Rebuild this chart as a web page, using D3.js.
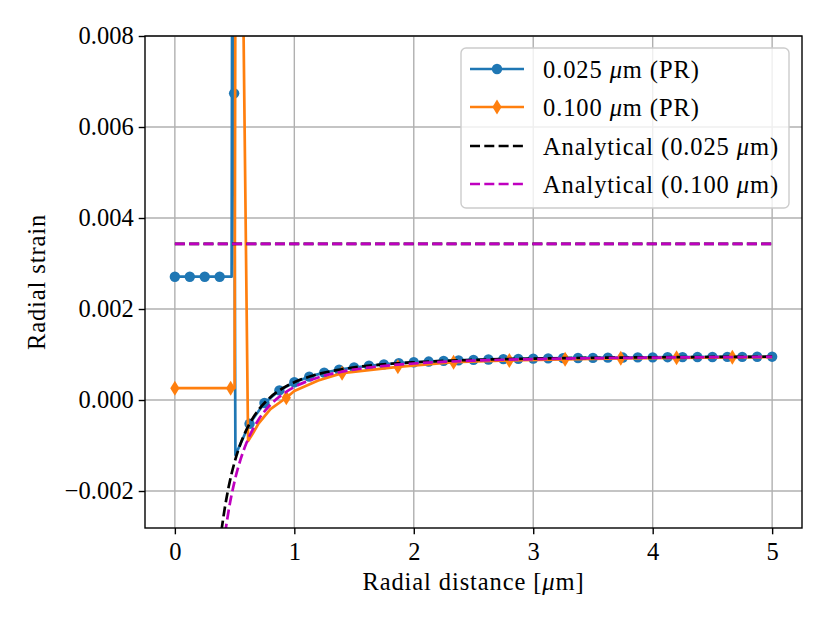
<!DOCTYPE html>
<html>
<head>
<meta charset="utf-8">
<script src="https://cdn.jsdelivr.net/npm/d3@7"></script>
<style>
  body { margin: 0; background: #fff; }
  svg text { font-family: "Liberation Serif", "DejaVu Serif", serif; fill: #000; }
</style>
</head>
<body>
<div id="chart"></div>
<script>
'use strict';

// Tick values
const xTicks = [0, 1, 2, 3, 4, 5];
const yTicks = [-0.002, 0.000, 0.002, 0.004, 0.006, 0.008];

// 0.025 um (PR): marker positions
const blueX = [0, 0.125, 0.25, 0.375, 0.496, 0.625, 0.75, 0.875, 1.0, 1.125, 1.25, 1.375, 1.5, 1.625, 1.75, 1.875,
  2.0, 2.125, 2.25, 2.375, 2.5, 2.625, 2.75, 2.875, 3.0, 3.125, 3.25, 3.375, 3.5, 3.625, 3.75, 3.875,
  4.0, 4.125, 4.25, 4.375, 4.5, 4.625, 4.75, 4.875, 5.0];
const blueY = [0.00271, 0.00271, 0.00271, 0.00271, 0.00674, -0.000523, -0.000065, 0.000211, 0.00039, 0.000513, 0.000601,
  0.000666, 0.000715, 0.000753, 0.000784, 0.000809, 0.000829, 0.000845, 0.000859, 0.000871, 0.000881, 0.00089,
  0.000898, 0.000904, 0.00091, 0.000915, 0.00092, 0.000924, 0.000927, 0.000931, 0.000933, 0.000936, 0.000938,
  0.000941, 0.000943, 0.000944, 0.000946, 0.000948, 0.000949, 0.00095, 0.000952];
// extra vertices of the blue spike (no marker)
const blueSpikeX = [0.475, 0.482, 0.507];
const blueSpikeY = [0.00271, 0.0125, -0.00121];

// 0.100 um (PR): line vertices and marker positions
const orangeX = [0, 0.467, 0.5, 0.51, 0.55, 0.613, 0.65, 0.7, 0.8, 0.933, 1.0, 1.2, 1.4, 1.867, 2.333, 2.8,
  3.267, 3.733, 4.2, 4.667, 5.0];
const orangeY = [0.00026, 0.00026, 0.00026, 0.014, 0.014, -0.0009, -0.00075, -0.00052, -0.0002, 0.00005, 0.0002,
  0.00043, 0.00059, 0.00073, 0.00083, 0.00087, 0.000895, 0.000915, 0.000928, 0.000937, 0.000942];
const orangeMarkX = [0, 0.467, 0.933, 1.4, 1.867, 2.333, 2.8, 3.267, 3.733, 4.2, 4.667];
const orangeMarkY = [0.00026, 0.00026, 0.00005, 0.00059, 0.00073, 0.00083, 0.00087, 0.000895, 0.000915, 0.000928, 0.000937];

// Analytical curves (outer region)
const blackX = [0.39, 0.42, 0.45, 0.5, 0.55, 0.6, 0.65, 0.7, 0.8, 0.9, 1.0, 1.2, 1.4, 1.7, 2.0, 2.5, 3.0, 3.5, 4.0, 4.5, 5.0];
const blackY = [-0.00287, -0.002341, -0.001914, -0.001365, -0.000959, -0.00065, -0.00041, -0.000219, 0.000061,
  0.000253, 0.00039, 0.000569, 0.000677, 0.000773, 0.000829, 0.000881, 0.00091, 0.000927, 0.000938, 0.000946, 0.000952];
const magentaX = [0.42, 0.45, 0.5, 0.55, 0.6, 0.65, 0.7, 0.8, 0.9, 1.0, 1.2, 1.4, 1.7, 2.0, 2.5, 3.0, 3.5, 4.0, 4.5, 5.0];
const magentaY = [-0.002937, -0.002432, -0.001785, -0.001306, -0.000942, -0.000658, -0.000433, -0.000103, 0.000123,
  0.000285, 0.000496, 0.000623, 0.000736, 0.000802, 0.000865, 0.000898, 0.000919, 0.000932, 0.000941, 0.000947];
// Analytical constant (inner region) drawn across the domain
const constX = [0, 5];
const constY = [0.00343, 0.00343];

const legendLabels = [
  ['0.025 ', 'μ', 'm (PR)'],
  ['0.100 ', 'μ', 'm (PR)'],
  ['Analytical (0.025 ', 'μ', 'm)'],
  ['Analytical (0.100 ', 'μ', 'm)']
];

const colors = { blue: '#1f77b4', orange: '#ff7f0e', black: '#000000', magenta: '#bf00bf' };

// Layout
const W = 830, H = 623;
const plot = { left: 145, right: 802, top: 36, bottom: 528 };
const fontSize = 24.5;
const textSpacing = '0.9px'; // widen Times-like glyphs toward Computer Modern

const svg = d3.select('#chart').append('svg')
  .attr('width', W)
  .attr('height', H);

const x = d3.scaleLinear().domain([-0.25, 5.25]).range([plot.left, plot.right]);
const y = d3.scaleLinear().domain([-0.002813, 0.008]).range([plot.bottom, plot.top]);

svg.append('defs').append('clipPath').attr('id', 'clip')
  .append('rect')
  .attr('x', plot.left).attr('y', plot.top)
  .attr('width', plot.right - plot.left).attr('height', plot.bottom - plot.top);

// Grid
const grid = svg.append('g').attr('class', 'grid');
grid.selectAll('.gx').data(xTicks).enter().append('line')
  .attr('x1', d => x(d)).attr('x2', d => x(d))
  .attr('y1', plot.top).attr('y2', plot.bottom)
  .style('stroke', '#b0b0b0').style('stroke-width', 1.4);
grid.selectAll('.gy').data(yTicks).enter().append('line')
  .attr('y1', d => y(d)).attr('y2', d => y(d))
  .attr('x1', plot.left).attr('x2', plot.right)
  .style('stroke', '#b0b0b0').style('stroke-width', 1.4);

// Series
const zip = (xs, ys) => xs.map((v, i) => [v, ys[i]]);
const lineGen = d3.line().x(d => x(d[0])).y(d => y(d[1]));
const smoothGen = d3.line().curve(d3.curveMonotoneX).x(d => x(d[0])).y(d => y(d[1]));

const series = svg.append('g').attr('clip-path', 'url(#clip)');

const bluePts = zip(blueX, blueY).concat(zip(blueSpikeX, blueSpikeY)).sort((a, b) => a[0] - b[0]);
series.append('path')
  .datum(bluePts)
  .attr('d', lineGen)
  .style('fill', 'none').style('stroke', colors.blue).style('stroke-width', 2.7)
  .style('stroke-linejoin', 'round');
series.selectAll('.bm').data(zip(blueX, blueY)).enter().append('circle')
  .attr('cx', d => x(d[0])).attr('cy', d => y(d[1]))
  .attr('r', 5.2)
  .style('fill', colors.blue);

series.append('path')
  .datum(zip(orangeX, orangeY))
  .attr('d', lineGen)
  .style('fill', 'none').style('stroke', colors.orange).style('stroke-width', 2.7)
  .style('stroke-linejoin', 'round');
// thin diamond marker
const diamond = (cx, cy) => `M${cx},${cy - 7.5}L${cx + 4.6},${cy}L${cx},${cy + 7.5}L${cx - 4.6},${cy}Z`;
series.selectAll('.om').data(zip(orangeMarkX, orangeMarkY)).enter().append('path')
  .attr('d', d => diamond(x(d[0]), y(d[1])))
  .style('fill', colors.orange);

const dash = '10,4.3';
series.append('path')
  .datum(zip(blackX, blackY))
  .attr('d', smoothGen)
  .style('fill', 'none').style('stroke', colors.black).style('stroke-width', 2.7)
  .style('stroke-dasharray', dash);
series.append('path')
  .datum(zip(constX, constY))
  .attr('d', lineGen)
  .style('fill', 'none').style('stroke', colors.black).style('stroke-width', 2.7)
  .style('stroke-dasharray', dash);
series.append('path')
  .datum(zip(magentaX, magentaY))
  .attr('d', smoothGen)
  .style('fill', 'none').style('stroke', colors.magenta).style('stroke-width', 2.7)
  .style('stroke-dasharray', dash);
series.append('path')
  .datum(zip(constX, constY))
  .attr('d', lineGen)
  .style('fill', 'none').style('stroke', colors.magenta).style('stroke-width', 2.7)
  .style('stroke-dasharray', dash);

// Axes
const fmtY = d => (d < 0 ? '\u2212' : '') + Math.abs(d).toFixed(3);
const xAxis = svg.append('g')
  .attr('transform', `translate(0, ${plot.bottom})`)
  .call(d3.axisBottom(x).tickValues(xTicks).tickSize(6.3).tickPadding(5).tickFormat(d3.format('d')));
const yAxis = svg.append('g')
  .attr('transform', `translate(${plot.left}, 0)`)
  .call(d3.axisLeft(y).tickValues(yTicks).tickSize(6.3).tickPadding(5).tickFormat(fmtY));
[xAxis, yAxis].forEach(a => {
  a.select('.domain').remove();
  a.selectAll('.tick line').style('stroke', '#000').style('stroke-width', 1.4);
  a.selectAll('.tick text').style('font-size', fontSize + 'px').attr('fill', '#000')
    .style('font-family', '"Liberation Serif", serif');
});
xAxis.selectAll('.tick text').attr('dy', '0.85em');

// Frame
svg.append('rect')
  .attr('x', plot.left).attr('y', plot.top)
  .attr('width', plot.right - plot.left).attr('height', plot.bottom - plot.top)
  .style('fill', 'none').style('stroke', '#000').style('stroke-width', 1.4);

// Axis labels
const xl = svg.append('text')
  .attr('x', (plot.left + plot.right) / 2).attr('y', 590)
  .attr('text-anchor', 'middle')
  .style('font-size', fontSize + 'px')
  .style('letter-spacing', textSpacing);
xl.append('tspan').text('Radial distance [');
xl.append('tspan').style('font-style', 'italic').text('μ');
xl.append('tspan').text('m]');

svg.append('text')
  .attr('transform', `translate(45, ${(plot.top + plot.bottom) / 2}) rotate(-90)`)
  .attr('text-anchor', 'middle')
  .style('font-size', fontSize + 'px')
  .style('letter-spacing', textSpacing)
  .text('Radial strain');

// Legend
const legend = svg.append('g').attr('class', 'legend');
legend.append('rect')
  .attr('x', 461).attr('y', 48).attr('width', 328).attr('height', 160)
  .attr('rx', 5)
  .style('fill', 'rgba(255,255,255,0.8)').style('stroke', '#cccccc').style('stroke-width', 1.4);
const rowY = [69, 107, 146, 184];
const legendStyle = [
  { color: colors.blue, dash: null, marker: 'circle' },
  { color: colors.orange, dash: null, marker: 'diamond' },
  { color: colors.black, dash: dash, marker: null },
  { color: colors.magenta, dash: dash, marker: null }
];
legendLabels.forEach((parts, i) => {
  const st = legendStyle[i];
  const g = legend.append('g');
  g.append('line')
    .attr('x1', 470).attr('x2', 524).attr('y1', rowY[i]).attr('y2', rowY[i])
    .style('stroke', st.color).style('stroke-width', 2.7)
    .style('stroke-dasharray', st.dash);
  if (st.marker === 'circle') {
    g.append('circle').attr('cx', 497).attr('cy', rowY[i]).attr('r', 5.2).style('fill', st.color);
  } else if (st.marker === 'diamond') {
    g.append('path').attr('d', diamond(497, rowY[i])).style('fill', st.color);
  }
  const t = g.append('text')
    .attr('x', 543).attr('y', rowY[i] + 8.5)
    .style('font-size', fontSize + 'px')
    .style('letter-spacing', textSpacing);
  t.append('tspan').text(parts[0]);
  t.append('tspan').style('font-style', 'italic').text(parts[1]);
  t.append('tspan').text(parts[2]);
});
</script>
</body>
</html>
